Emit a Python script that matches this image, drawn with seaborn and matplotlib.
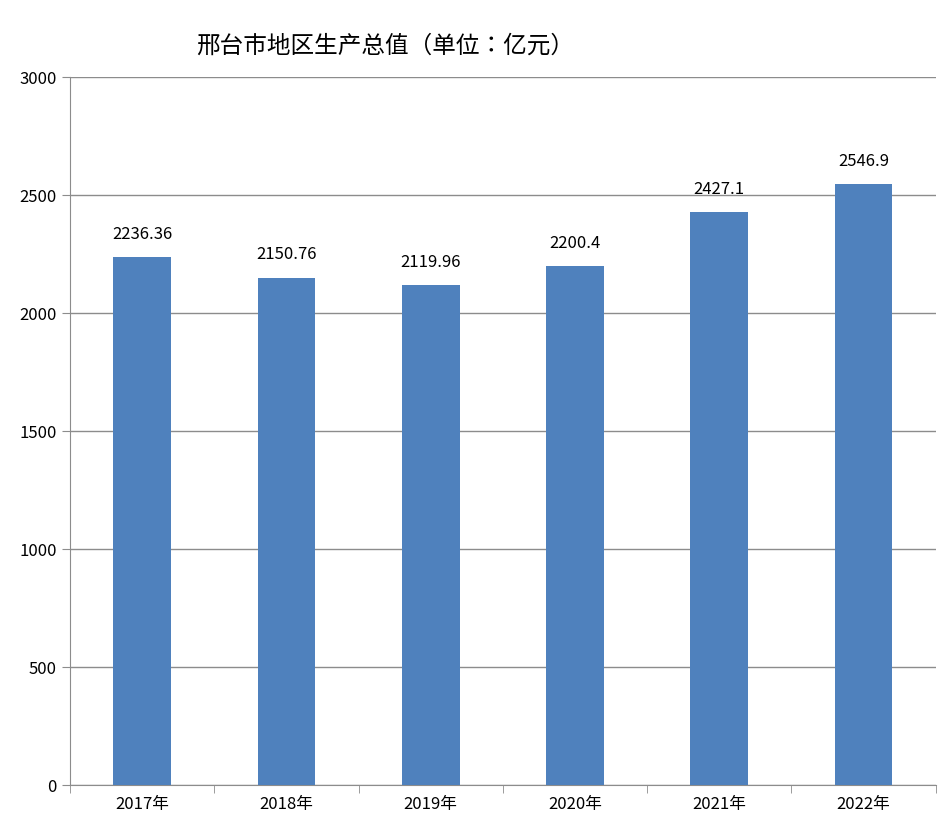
import matplotlib
matplotlib.use("Agg")
import matplotlib.pyplot as plt
from matplotlib import font_manager
import seaborn as sns
import numpy as np
import pandas as pd

# pick whatever CJK family is actually registered
names = {f.name for f in font_manager.fontManager.ttflist}
cjk = [n for n in ["Noto Sans CJK SC", "Noto Sans CJK JP", "Noto Sans CJK TC",
                   "Noto Sans CJK KR", "Noto Sans SC", "Noto Sans CJK"] if n in names]
cjk += sorted(n for n in names if "CJK" in n)
plt.rcParams["font.family"] = "sans-serif"
plt.rcParams["font.sans-serif"] = cjk + ["DejaVu Sans"]

years = ["2017年", "2018年", "2019年", "2020年", "2021年", "2022年"]
gdp = [2236.36, 2150.76, 2119.96, 2200.4, 2427.1, 2546.9]
labels = ["2236.36", "2150.76", "2119.96", "2200.4", "2427.1", "2546.9"]

df = pd.DataFrame({"year": years, "gdp": gdp})

fig = plt.figure(figsize=(9.46, 8.38), dpi=100)
ax = fig.add_axes([0.074, 0.063, 0.915, 0.845])

sns.barplot(data=df, x="year", y="gdp", color="#4F81BD", width=0.4,
            saturation=1, ax=ax, zorder=3)

ax.set_ylim(0, 3000)
ax.set_xlim(-0.5, len(years) - 0.5)
ax.set_yticks(np.arange(0, 3001, 500))
ax.yaxis.grid(True, color="#8c8c8c", linewidth=1, zorder=0)
ax.set_axisbelow(True)
for s in ["top", "right"]:
    ax.spines[s].set_visible(False)
for s in ["left", "bottom"]:
    ax.spines[s].set_color("#8c8c8c")

ax.set_xticks(np.arange(-0.5, len(years)), minor=True)
ax.tick_params(axis="x", which="major", length=0, labelsize=12, pad=8)
ax.tick_params(axis="x", which="minor", length=6, color="#8c8c8c")
ax.tick_params(axis="y", length=6, color="#8c8c8c", labelsize=12)
ax.set_xlabel("")
ax.set_ylabel("")

for i, (v, t) in enumerate(zip(gdp, labels)):
    ax.text(i, v + 60, t, ha="center", va="bottom", fontsize=12)

fig.text(0.407, 0.945, "邢台市地区生产总值（单位：亿元）", ha="center", va="center", fontsize=17)

fig.savefig("out.png", dpi=100)
